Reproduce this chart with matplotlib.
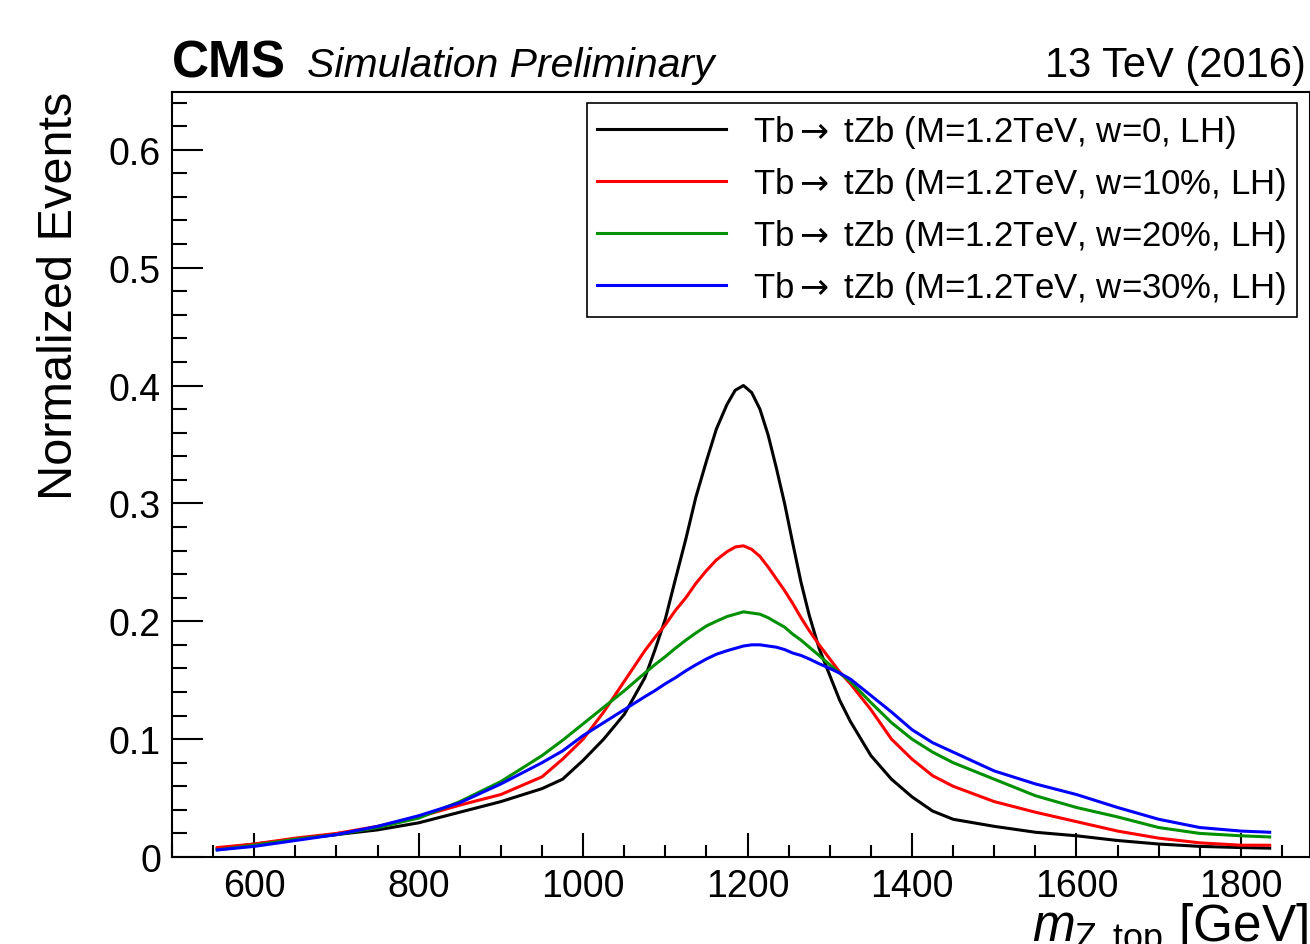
import matplotlib
matplotlib.use("Agg")
import matplotlib.pyplot as plt
from matplotlib.ticker import MultipleLocator, FuncFormatter

plt.rcParams['font.family'] = ['Liberation Sans', 'DejaVu Sans']
plt.rcParams['mathtext.fontset'] = 'custom'
plt.rcParams['mathtext.rm'] = 'Liberation Sans'
plt.rcParams['mathtext.it'] = 'Liberation Sans:italic'
plt.rcParams['mathtext.sf'] = 'DejaVu Sans'

# m_Z,top in GeV
mass = [555, 600, 650, 700, 750, 800, 850, 900, 950, 975, 1000, 1025, 1050,
        1075, 1087, 1100, 1112, 1125, 1137, 1150, 1162, 1175, 1185, 1195,
        1205, 1215, 1225, 1235, 1245, 1255, 1265, 1275, 1287, 1300, 1312,
        1325, 1350, 1375, 1400, 1425, 1450, 1500, 1550, 1600, 1650, 1700,
        1750, 1800, 1835]

w0 = [0.007, 0.011, 0.015, 0.019, 0.023, 0.029, 0.038, 0.047, 0.058, 0.066,
      0.082, 0.100, 0.121,
      0.152, 0.175, 0.202, 0.235, 0.270, 0.305, 0.336, 0.363, 0.384, 0.396,
      0.400, 0.394, 0.380, 0.358, 0.330, 0.300, 0.266, 0.233, 0.205, 0.177,
      0.154, 0.133,
      0.115, 0.086, 0.066, 0.051, 0.039, 0.032, 0.026, 0.021, 0.018, 0.014,
      0.011, 0.009, 0.008, 0.0075]
w10 = [0.008, 0.011, 0.016, 0.020, 0.026, 0.034, 0.044, 0.053, 0.068, 0.083,
       0.100, 0.123, 0.149,
       0.175, 0.186, 0.197, 0.209, 0.220, 0.232, 0.243, 0.252, 0.259, 0.263,
       0.264, 0.261, 0.255, 0.246, 0.236, 0.226, 0.215, 0.203, 0.192, 0.180,
       0.168, 0.157,
       0.147, 0.125, 0.100, 0.083, 0.069, 0.060, 0.047, 0.038, 0.030, 0.022,
       0.016, 0.012, 0.010, 0.010]
w20 = [0.006, 0.010, 0.015, 0.019, 0.025, 0.033, 0.047, 0.064, 0.086, 0.099,
       0.113, 0.127, 0.141,
       0.156, 0.163, 0.170, 0.177, 0.184, 0.190, 0.196, 0.200, 0.204, 0.206,
       0.208, 0.207, 0.206, 0.203, 0.199, 0.195, 0.189, 0.184, 0.178, 0.171,
       0.163, 0.156,
       0.149, 0.131, 0.114, 0.100, 0.089, 0.080, 0.066, 0.052, 0.042, 0.034,
       0.025, 0.020, 0.018, 0.017]
w30 = [0.006, 0.009, 0.014, 0.019, 0.026, 0.035, 0.046, 0.062, 0.080, 0.090,
       0.103, 0.114, 0.125,
       0.136, 0.141, 0.147, 0.152, 0.158, 0.163, 0.168, 0.172, 0.175, 0.177,
       0.179, 0.180, 0.180, 0.179, 0.178, 0.176, 0.173, 0.171, 0.168, 0.164,
       0.160, 0.156,
       0.151, 0.137, 0.123, 0.108, 0.097, 0.089, 0.073, 0.062, 0.053, 0.042,
       0.032, 0.025, 0.022, 0.021]

arrow = r"$\mathsf{\rightarrow}$"
labels = ["Tb" + arrow + " tZb (M=1.2TeV, w=0, LH)",
          "Tb" + arrow + " tZb (M=1.2TeV, w=10%, LH)",
          "Tb" + arrow + " tZb (M=1.2TeV, w=20%, LH)",
          "Tb" + arrow + " tZb (M=1.2TeV, w=30%, LH)"]
colors = ["black", "#ff0000", "#009000", "#0000ff"]

fig = plt.figure(figsize=(13.1, 9.45), dpi=100)
ax = fig.add_axes([172 / 1310, 87 / 945, 1138 / 1310, 765 / 945])

for ys, lab, c in zip([w0, w10, w20, w30], labels, colors):
    ax.plot(mass, ys, color=c, linewidth=2.2, label=lab)

ax.set_xlim(500, 1884)
ax.set_ylim(0, 0.649)
ax.xaxis.set_major_locator(MultipleLocator(200))
ax.xaxis.set_minor_locator(MultipleLocator(50))
ax.yaxis.set_major_locator(MultipleLocator(0.1))
ax.yaxis.set_minor_locator(MultipleLocator(0.02))
ax.yaxis.set_major_formatter(FuncFormatter(lambda v, p: "0" if abs(v) < 1e-9 else f"{v:.1f}"))

for s in ax.spines.values():
    s.set_linewidth(1.5)
ax.tick_params(axis='both', which='both', direction='in', width=1.5,
               labelsize=27, top=False, right=False)
ax.tick_params(axis='y', which='major', length=22, pad=8)
ax.tick_params(axis='y', which='minor', length=11)
ax.tick_params(axis='x', which='major', length=17, pad=8)
ax.tick_params(axis='x', which='minor', length=9)

leg = ax.legend(loc='upper right', bbox_to_anchor=(1297 / 1310, 841 / 945),
                bbox_transform=fig.transFigure, fontsize=25, frameon=True,
                fancybox=False, edgecolor='black', framealpha=1,
                handlelength=3.7, handletextpad=0.8, labelspacing=0.43,
                borderpad=0.3, borderaxespad=0)
leg.get_frame().set_linewidth(1.2)

fig.text(172 / 1310, 868 / 945, "CMS", fontsize=37, fontweight='bold',
         ha='left', va='baseline')
fig.text(307 / 1310, 868 / 945, "Simulation Preliminary", fontsize=29.5,
         style='italic', ha='left', va='baseline')
fig.text(1306 / 1310, 868 / 945, "13 TeV (2016)", fontsize=30,
         ha='right', va='baseline')
fig.text(60 / 1310, 853 / 945, "Normalized Events", fontsize=35,
         rotation=90, ha='center', va='top')
fig.text(1308 / 1310, 3 / 945, r"$m_{\mathrm{Z,top}}$ [GeV]", fontsize=37,
         ha='right', va='baseline')

fig.savefig("out.png", dpi=100)
